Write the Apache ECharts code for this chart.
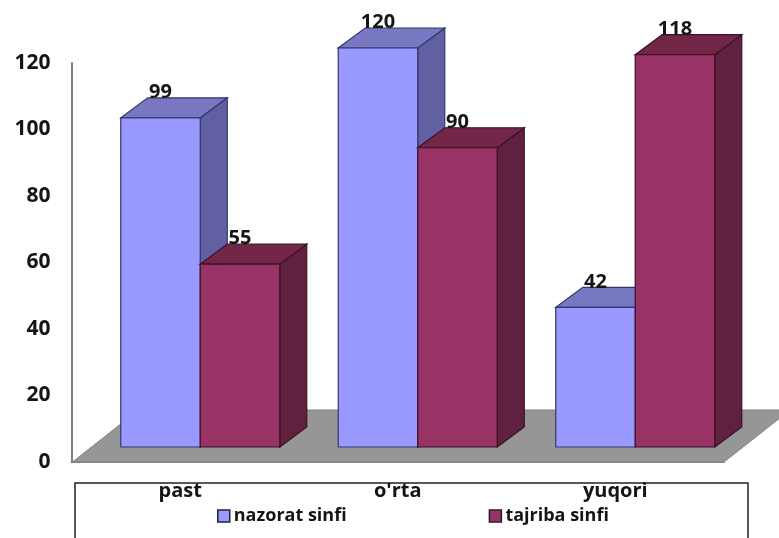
<!DOCTYPE html>
<html><head><meta charset="utf-8">
<style>html,body{margin:0;padding:0;background:#fff;overflow:hidden}#c{width:779px;height:538px}</style>
<script src="https://cdn.jsdelivr.net/npm/echarts@6/dist/echarts.min.js"></script>
</head><body><div id="c"></div>
<script>
var categories = ["past", "o'rta", "yuqori"];
var nazoratValues = [99, 120, 42];
var tajribaValues = [55, 90, 118];
var yTicks = [0, 20, 40, 60, 80, 100, 120];
var seriesNames = ["nazorat sinfi", "tajriba sinfi"];

var FONT = '"Open Sans", sans-serif';
var TXT = '#151515';
var OFFX = 20, OFFY = 15, DX = 27, DY = 20, BARW = 79.5;

function barRender(slot, front, top, side, edge) {
  return function (params, api) {
    var cat = api.value(0), val = api.value(1);
    var p = api.coord([cat, val]), z = api.coord([cat, 0]);
    var x = p[0] + OFFX + (slot === 0 ? -BARW : 0);
    var yT = p[1] - OFFY, yB = z[1] - OFFY;
    var w = BARW;
    var ls = { stroke: edge, lineWidth: 1.2 };
    return {
      type: 'group',
      children: [
        { type: 'polygon', shape: { points: [[x + w, yT], [x + w + DX, yT - DY], [x + w + DX, yB - DY], [x + w, yB]] },
          style: Object.assign({ fill: side }, ls) },
        { type: 'polygon', shape: { points: [[x, yT], [x + w, yT], [x + w + DX, yT - DY], [x + DX, yT - DY]] },
          style: Object.assign({ fill: top }, ls) },
        { type: 'rect', shape: { x: x, y: yT, width: w, height: yB - yT },
          style: Object.assign({ fill: front }, ls) },
        { type: 'text', z2: 10, style: { text: String(val), x: x + w / 2, y: yT - 25.5, align: 'center', verticalAlign: 'middle',
            fontFamily: FONT, fontSize: 20, fontWeight: 700, fill: TXT } }
      ]
    };
  };
}

var chart = echarts.init(document.getElementById('c'), null, { renderer: 'canvas' });
chart.setOption({
  animation: false,
  backgroundColor: '#fff',
  grid: { left: 71.5, right: 55, top: 63, bottom: 76, containLabel: false },
  graphic: [{
    type: 'rect', z: -1, silent: true,
    shape: { x: 75, y: 483, width: 673, height: 80 },
    style: { fill: '#fff', stroke: '#222', lineWidth: 1.5 }
  }],
  legend: {
    data: seriesNames, left: 212, top: 502, itemWidth: 12, itemHeight: 12, itemGap: 142,
    icon: 'rect',
    itemStyle: { borderColor: '#222', borderWidth: 1.5 },
    textStyle: { fontFamily: FONT, fontSize: 18, fontWeight: 700, color: TXT, padding: [0, 0, 0, -1] }
  },
  xAxis: {
    type: 'category', data: categories,
    axisLine: { show: true, lineStyle: { color: '#808080', width: 2 } },
    axisTick: { show: false }, splitLine: { show: false },
    axisLabel: { fontFamily: FONT, fontSize: 20, fontWeight: 700, color: TXT, margin: 19 }
  },
  yAxis: {
    type: 'value', min: yTicks[0], max: yTicks[yTicks.length - 1], interval: yTicks[1] - yTicks[0],
    axisLine: { show: true, lineStyle: { color: '#808080', width: 2 } },
    axisTick: { show: false }, splitLine: { show: false },
    axisLabel: { fontFamily: FONT, fontSize: 21, fontWeight: 700, color: TXT, margin: 21, padding: [3, 0, 0, 0] }
  },
  series: [
    { type: 'custom', name: 'floor', silent: true, data: [[0, 0]], encode: { x: 0, y: 1 }, clip: false, z: 1,
      renderItem: function (params, api) {
        var cs = params.coordSys, b = cs.y + cs.height, l = cs.x + 1, r = cs.x + cs.width;
        var fdx = 66, fdy = 52;
        return { type: 'polygon', shape: { points: [[l, b], [r, b], [r + fdx, b - fdy], [l + fdx, b - fdy]] },
          style: { fill: '#969696', stroke: '#808080', lineWidth: 1 } };
      } },
    { type: 'custom', name: seriesNames[0], clip: false, z: 2, itemStyle: { color: '#9999FF' },
      data: nazoratValues.map(function (v, i) { return [i, v]; }), encode: { x: 0, y: 1 },
      renderItem: barRender(0, '#9999FF', '#7878C2', '#6060A2', '#36366E') },
    { type: 'custom', name: seriesNames[1], clip: false, z: 3, itemStyle: { color: '#993366' },
      data: tajribaValues.map(function (v, i) { return [i, v]; }), encode: { x: 0, y: 1 },
      renderItem: barRender(1, '#993366', '#742648', '#602040', '#3A1226') }
  ]
});
</script></body></html>
